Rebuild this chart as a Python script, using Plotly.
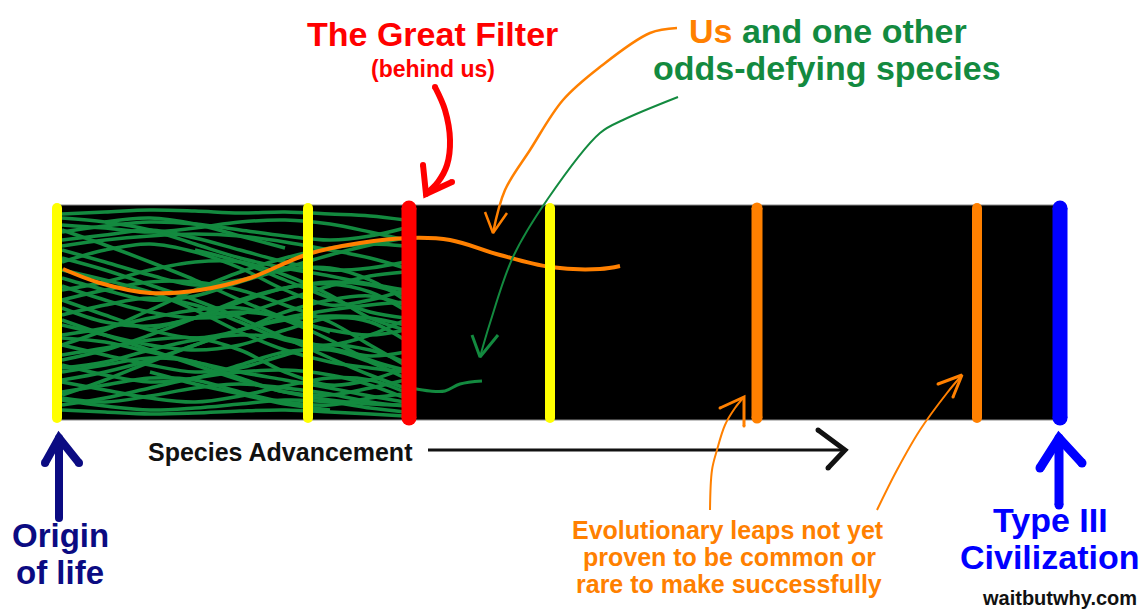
import plotly.graph_objects as go

# ---------------- data (pixel-space illustration values) ----------------
# Milestones along the "Species Advancement" axis
stage_names = ["Origin of life", "Step 1", "The Great Filter", "Us", "Leap A", "Leap B", "Type III Civilization"]
stage_x = [57, 308, 409, 550, 757, 977, 1060]
band_y = [205, 420]

# Green species paths (y at fixed x knots), None = no path there
green_x = [62, 105, 150, 195, 240, 285, 330, 370, 405]
green_paths = [
    [214, 212, 210, 211, 213, 212, 214, 216, 220],
    [225, 228, 232, 228, 222, 220, 224, 232, 240],
    [240, 235, 230, 238, 250, 262, 270, 268, 262],
    [250, 262, 275, 285, 280, 268, 255, 245, 238],
    [262, 250, 244, 252, 268, 290, 305, 300, 290],
    [278, 290, 300, 296, 282, 270, 268, 280, 300],
    [290, 282, 270, 262, 262, 275, 295, 318, 330],
    [300, 315, 330, 338, 330, 312, 300, 296, 305],
    [315, 305, 298, 305, 322, 340, 345, 335, 320],
    [325, 335, 345, 350, 345, 330, 318, 322, 340],
    [335, 328, 318, 310, 308, 320, 340, 360, 370],
    [345, 355, 365, 372, 368, 355, 345, 350, 362],
    [355, 348, 340, 338, 350, 372, 385, 380, 368],
    [365, 375, 382, 378, 365, 352, 350, 362, 378],
    [372, 365, 358, 362, 378, 392, 395, 388, 380],
    [382, 390, 398, 402, 396, 386, 378, 380, 392],
    [392, 385, 378, 380, 392, 402, 405, 398, 394],
    [400, 406, 410, 408, 404, 400, 402, 408, 412],
    [410, 412, 414, 413, 411, 410, 412, 414, 416],
    [230, 245, 262, 280, 300, 318, 330, 335, 330],
    [345, 330, 310, 290, 272, 258, 248, 244, 246],
    [300, 290, 282, 282, 290, 305, 322, 345, 365],
    [270, 280, 292, 310, 332, 350, 362, 368, 372],
    [395, 380, 362, 345, 330, 320, 316, 318, 325],
    [258, 270, 285, 300, 318, 338, 358, 375, 388],
    [320, 335, 350, 365, 380, 392, 400, 404, 405],
    [380, 372, 360, 345, 330, 318, 310, 305, 302],
    [246, 240, 236, 234, 236, 242, 250, 258, 268],
    [360, 350, 335, 318, 300, 288, 282, 285, 295],
    [405, 398, 388, 378, 372, 370, 375, 385, 398],
    [None, None, 330, 318, 312, 318, 332, None, None],
    [None, 222, 218, 224, 236, 248, None, None, None],
    [None, None, None, 250, 262, 280, 298, 312, 318],
    [232, 226, 222, 224, 230, 236, 240, 236, 228],
    [286, 300, 312, 318, 314, 300, 286, 276, 272],
    [338, 342, 352, 362, 372, 380, 388, 396, 402],
    [368, 362, 350, 340, 335, 338, 348, 356, 352],
    [398, 402, 396, 388, 384, 388, 394, 402, 406],
    [308, 322, 326, 318, 302, 288, 284, 292, 310],
    [None, None, 372, 384, 394, 404, 410, None, None],
    [218, 222, 230, 244, 258, 268, 276, 284, 290],
]
# the one green species that makes it past the Great Filter
survivor_x = [412, 430, 445, 460, 482]
survivor_y = [388, 391, 391, 384, 381]

# Our own path ("Us")
us_x = [63, 100, 150, 200, 250, 308, 360, 409, 450, 500, 550, 600, 620]
us_y = [269, 283, 293, 290, 278, 254, 243, 238, 240, 255, 267, 269, 266]

# Arrows: shaft points and head arms (x, y)
great_filter_arrow_x = [435, 445, 450, 447, 438, 426]
great_filter_arrow_y = [87, 110, 140, 165, 182, 194]
great_filter_head_x = [423, 426, 452]
great_filter_head_y = [165, 194, 182]

us_arrow_x = [677, 650, 600, 563, 530, 505, 493]
us_arrow_y = [28, 33, 67, 100, 150, 190, 233]
us_head_x = [485, 493, 507]
us_head_y = [212, 233, 213]

other_arrow_x = [678, 623, 600, 547, 513, 490, 480]
other_arrow_y = [97, 120, 133, 200, 257, 323, 357]
other_head_x = [472, 480, 498]
other_head_y = [335, 357, 335]

adv_arrow_x = [428, 845]
adv_arrow_y = [450, 450]
adv_head_x = [818, 845, 828]
adv_head_y = [430, 450, 468]

leapA_arrow_x = [710, 712, 717, 725, 735, 744]
leapA_arrow_y = [510, 470, 450, 425, 408, 397]
leapA_head_x = [720, 744, 744]
leapA_head_y = [408, 397, 426]

leapB_arrow_x = [877, 897, 920, 947, 962]
leapB_arrow_y = [510, 470, 430, 393, 375]
leapB_head_x = [938, 962, 953]
leapB_head_y = [384, 375, 397]

origin_arrow_x = [59, 59]
origin_arrow_y = [518, 438]
origin_head_x = [45, 59, 79]
origin_head_y = [463, 438, 463]

type3_arrow_x = [1059, 1059]
type3_arrow_y = [505, 438]
type3_head_x = [1040, 1059, 1082]
type3_head_y = [468, 438, 463]

# Text labels
label_texts = [
    "The Great Filter", "(behind us)",
    "<span style='color:#ff8000'>Us</span> and one other", "odds-defying species",
    "Species Advancement",
    "Origin", "of life",
    "Type III", "Civilization",
    "Evolutionary leaps not yet", "proven to be common or", "rare to make successfully",
    "waitbutwhy.com",
]
label_x = [432, 433, 828, 827, 280, 60, 60, 1050, 1049, 728, 729, 729, 1059]
label_y = [34, 69, 31, 68, 452, 535, 572, 520, 557, 530, 557, 584, 598]

# ---------------- styles ----------------
RED = "#ff0000"
ORANGE = "#ff8000"
GREEN = "#138a3f"
YELLOW = "#ffff00"
NAVY = "#0b0b82"
BLUE = "#0000ff"
stage_colors = [YELLOW, YELLOW, RED, YELLOW, ORANGE, ORANGE, BLUE]
stage_widths = [10, 10, 15, 10, 11, 10, 15]
label_colors = [RED, RED, GREEN, GREEN, "#111111", NAVY, NAVY, BLUE, BLUE,
                ORANGE, ORANGE, ORANGE, "#111111"]
label_sizes = [34, 23, 34, 34, 25, 33, 33, 34, 34, 25, 25, 25, 20]

FONT = "Liberation Sans, Arial, Helvetica, sans-serif"

fig = go.Figure()


def add_line(xs, ys, color, width, spline=True, caps=False):
    fig.add_trace(go.Scatter(
        x=xs, y=ys, mode="lines",
        line=dict(color=color, width=width, shape="spline" if spline else "linear",
                  smoothing=1.0),
        hoverinfo="skip", connectgaps=False,
    ))
    if caps:
        fig.add_trace(go.Scatter(
            x=[xs[0], xs[-1]], y=[ys[0], ys[-1]], mode="markers",
            marker=dict(color=color, size=width, line=dict(width=0)),
            hoverinfo="skip",
        ))


# green species paths
for path in green_paths:
    add_line(green_x, path, GREEN, 3.5)
add_line(survivor_x, survivor_y, GREEN, 3)

# our path
add_line(us_x, us_y, ORANGE, 4)

# milestone bars
for sx, col, w in zip(stage_x, stage_colors, stage_widths):
    add_line([sx, sx], [band_y[0] + 3, band_y[1] - 2], col, w, spline=False, caps=True)

# arrows
add_line(great_filter_arrow_x, great_filter_arrow_y, RED, 6, caps=True)
add_line(great_filter_head_x, great_filter_head_y, RED, 6, spline=False, caps=True)
add_line(us_arrow_x, us_arrow_y, ORANGE, 2.5)
add_line(us_head_x, us_head_y, ORANGE, 2.5, spline=False)
add_line(other_arrow_x, other_arrow_y, GREEN, 2)
add_line(other_head_x, other_head_y, GREEN, 3, spline=False)
add_line(adv_arrow_x, adv_arrow_y, "#111111", 3, spline=False)
add_line(adv_head_x, adv_head_y, "#111111", 5, spline=False, caps=True)
add_line(leapA_arrow_x, leapA_arrow_y, ORANGE, 2)
add_line(leapA_head_x, leapA_head_y, ORANGE, 3, spline=False, caps=True)
add_line(leapB_arrow_x, leapB_arrow_y, ORANGE, 2)
add_line(leapB_head_x, leapB_head_y, ORANGE, 3, spline=False, caps=True)
add_line(origin_arrow_x, origin_arrow_y, NAVY, 8, spline=False, caps=True)
add_line(origin_head_x, origin_head_y, NAVY, 8, spline=False, caps=True)
add_line(type3_arrow_x, type3_arrow_y, BLUE, 9, spline=False, caps=True)
add_line(type3_head_x, type3_head_y, BLUE, 9, spline=False, caps=True)

# labels
for t, x, y, c, s in zip(label_texts, label_x, label_y, label_colors, label_sizes):
    fig.add_annotation(x=x, y=y, xref="x", yref="y", text=t, showarrow=False,
                       xanchor="center", yanchor="middle",
                       font=dict(family=FONT, size=s, color=c, weight="bold"))

# black band
fig.add_shape(type="rect", x0=stage_x[0], x1=stage_x[-1], y0=band_y[0], y1=band_y[1],
              xref="x", yref="y", fillcolor="black", line=dict(color="#888888", width=1),
              layer="below")

fig.update_layout(
    width=1148, height=610, autosize=False,
    margin=dict(l=0, r=0, t=0, b=0),
    paper_bgcolor="white", plot_bgcolor="white",
    showlegend=False, hovermode=False,
    xaxis=dict(range=[0, 1148], visible=False, fixedrange=True),
    yaxis=dict(range=[610, 0], visible=False, fixedrange=True),
)

fig.write_html("out.html", config={"displayModeBar": False},
               post_script="document.body.style.margin='0';document.body.style.overflow='hidden';")
